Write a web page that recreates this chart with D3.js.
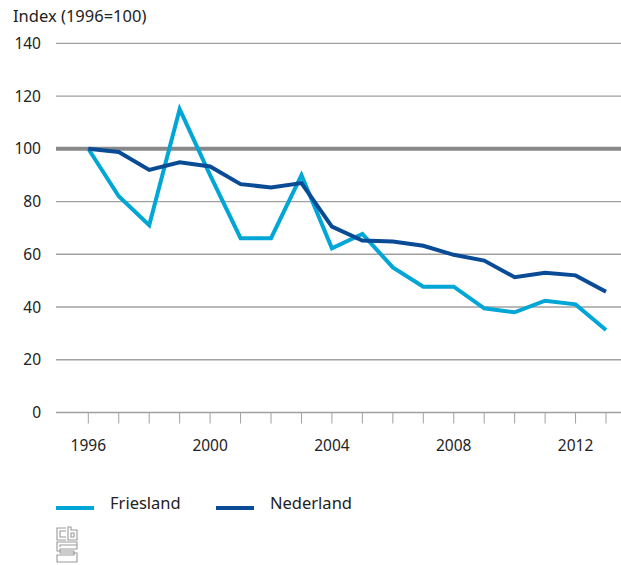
<!DOCTYPE html>
<html><head><meta charset="utf-8">
<script src="https://cdn.jsdelivr.net/npm/d3@7"></script>
<style>body{margin:0;background:#fff}svg{display:block}text{font-family:"Noto Sans",sans-serif;fill:#222}</style>
</head><body><svg width="621" height="565"></svg>
<script>
const years = d3.range(1996, 2014);
const friesland = [100, 82, 71, 115, 90, 66.1, 66.1, 90, 62.3, 67.7, 55, 47.7, 47.7, 39.5, 38, 42.4, 41, 31.3];
const nederland = [100, 98.8, 92, 94.9, 93.3, 86.6, 85.3, 87, 70.5, 65.2, 64.8, 63.2, 59.8, 57.6, 51.3, 53, 52, 45.8];
const yTicks = [0, 20, 40, 60, 80, 100, 120, 140];
const xLabels = [1996, 2000, 2004, 2008, 2012];
const seriesNames = ["Friesland", "Nederland"];
const colors = ["#00a6d6", "#0a4b96"];

const svg = d3.select("svg");
const x = d3.scaleLinear().domain([1996, 2013]).range([88.3, 606]);
const y = d3.scaleLinear().domain([0, 140]).range([412.5, 43.3]);
const left = 56, right = 621;

svg.append("text").attr("x", 13).attr("y", 22).attr("font-size", 16.5).text("Index (1996=100)");

// gridlines
svg.append("g").selectAll("line").data(yTicks.filter(d => d !== 0 && d !== 100)).join("line")
  .attr("x1", left).attr("x2", right).attr("y1", d => y(d)).attr("y2", d => y(d))
  .attr("stroke", "#a0a0a0").attr("stroke-width", 1.3);
svg.append("g").selectAll("text").data(yTicks).join("text")
  .attr("x", 41).attr("y", d => y(d) + 5.5).attr("text-anchor", "end").attr("font-size", 15.5).text(d => d);

// x axis
svg.append("line").attr("x1", left).attr("x2", right).attr("y1", y(0)).attr("y2", y(0))
  .attr("stroke", "#a0a0a0").attr("stroke-width", 1.5);
svg.append("g").selectAll("line").data(years).join("line")
  .attr("x1", d => x(d)).attr("x2", d => x(d)).attr("y1", y(0)).attr("y2", y(0) + 11)
  .attr("stroke", "#a0a0a0").attr("stroke-width", 1);
svg.append("g").selectAll("text").data(xLabels).join("text")
  .attr("x", d => x(d)).attr("y", 451).attr("text-anchor", "middle").attr("font-size", 15.5).text(d => d);

// 100 reference line
svg.append("line").attr("x1", left).attr("x2", right).attr("y1", y(100)).attr("y2", y(100))
  .attr("stroke", "#888888").attr("stroke-width", 4);

const line = d3.line().x((d, i) => x(years[i])).y(d => y(d));
[friesland, nederland].forEach((s, k) => {
  svg.append("path").attr("d", line(s)).attr("fill", "none")
    .attr("stroke", colors[k]).attr("stroke-width", 4).attr("stroke-linejoin", "miter").attr("stroke-miterlimit", 4);
});

// legend
const lx = [56, 216];
seriesNames.forEach((n, k) => {
  svg.append("line").attr("x1", lx[k]).attr("x2", lx[k] + 38).attr("y1", 508).attr("y2", 508)
    .attr("stroke", colors[k]).attr("stroke-width", 4);
  svg.append("text").attr("x", lx[k] + 54).attr("y", 509).attr("font-size", 16.5).text(n);
});

// cbs logo
const lg = svg.append("g").attr("fill", "none").attr("stroke", "#9a9a9a").attr("stroke-width", 1.1);
lg.append("path").attr("d", "M66,528H57V540H66M66,531H60V537H66");
lg.append("path").attr("d", "M68,527V540H77V530H71V527ZM71,533H74V537H71Z");
lg.append("path").attr("d", "M77,542H57V551H74V555H57V562H77V553H60V549H77Z");
lg.append("path").attr("d", "M77,545H60V547");
</script></body></html>
